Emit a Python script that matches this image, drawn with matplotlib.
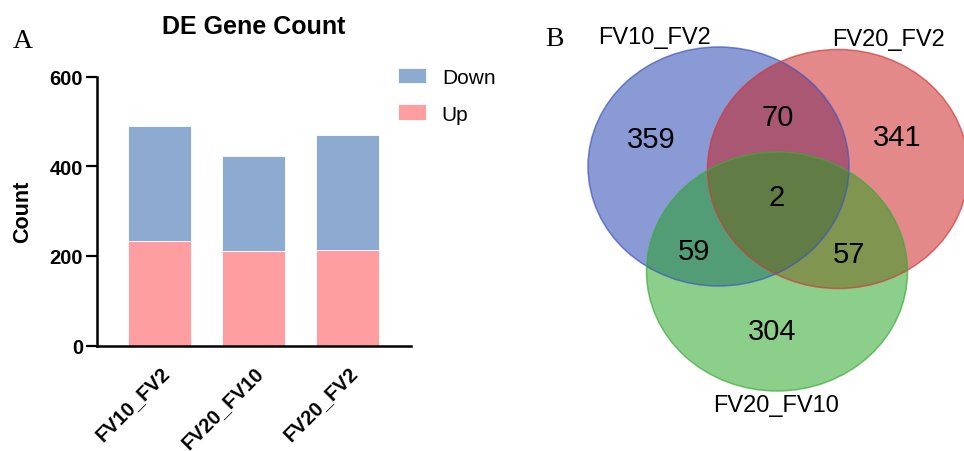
import matplotlib
matplotlib.use("Agg")
import matplotlib.pyplot as plt
from matplotlib.patches import Ellipse
import numpy as np

# Differentially expressed gene counts per comparison
comparisons = ["FV10_FV2", "FV20_FV10", "FV20_FV2"]
up_counts = [234, 210, 212]
down_counts = [256, 212, 258]
y_ticks = [0, 200, 400, 600]

# Venn region counts
set_names = ["FV10_FV2", "FV20_FV2", "FV20_FV10"]
venn_counts = {
    "100": 359, "010": 341, "001": 304,
    "110": 70, "101": 59, "011": 57, "111": 2,
}

W, H = 964, 452
fig = plt.figure(figsize=(W / 100, H / 100), dpi=100)
plt.rcParams["font.family"] = ["Liberation Sans", "DejaVu Sans"]

# ---- Panel A: stacked bar chart ----
ax = fig.add_axes([97 / W, 1 - 346.5 / H, 314 / W, (346.5 - 77.5) / H])
x = np.arange(len(comparisons))
bw = 0.67
ax.bar(x, up_counts, width=bw, color="#FF9EA0", edgecolor="white",
       linewidth=0.6, label="Up")
ax.bar(x, down_counts, width=bw, bottom=up_counts, color="#8DABD1",
       edgecolor="white", linewidth=0.6, label="Down")
ax.set_xlim(-0.665, 2.675)
ax.set_ylim(0, 600)
ax.set_yticks(y_ticks)
ax.set_yticklabels([str(t) for t in y_ticks], fontsize=14.5, fontweight="bold")
ax.set_xticks(x)
ax.set_xticklabels(comparisons, fontsize=14.5, fontweight="bold",
                   rotation=45, ha="right", rotation_mode="anchor")
ax.tick_params(axis="y", length=8, width=1.6, pad=2)
ax.tick_params(axis="x", length=0, pad=12)
for s in ["top", "right"]:
    ax.spines[s].set_visible(False)
for s in ["left", "bottom"]:
    ax.spines[s].set_linewidth(1.8)
ax.set_ylabel("Count", fontsize=15.5, fontweight="bold", labelpad=12)
ax.set_title("DE Gene Count", fontsize=18, fontweight="bold", pad=31)

handles, labels = ax.get_legend_handles_labels()
leg = fig.legend(handles[::-1], labels[::-1], loc="upper left",
                 bbox_to_anchor=(398 / W, 1 - 68.5 / H), frameon=False,
                 fontsize=15, handlelength=1.35, handleheight=0.8,
                 handletextpad=0.75, labelspacing=0.85,
                 borderaxespad=0, borderpad=0)

fig.text(23 / W, 1 - 41 / H, "A", family="Liberation Serif", fontsize=20,
         ha="center", va="center")

# ---- Panel B: three-set Venn diagram ----
vx = fig.add_axes([540 / W, 0, (W - 540) / W, 1])
vx.set_xlim(540, W)
vx.set_ylim(H, 0)
vx.axis("off")

circles = [
    ((718.5, 167.5), "#1737AD", "#3F55C0"),
    ((838.0, 170.0), "#CB1515", "#D2393E"),
    ((777.0, 272.5), "#1BA119", "#3DAA3C"),
]
rx, ry = 130.5, 119.5
for (cx, cy), fc, ec in circles:
    vx.add_patch(Ellipse((cx, cy), 2 * rx, 2 * ry, facecolor=fc, alpha=0.5,
                         edgecolor="none"))
for (cx, cy), fc, ec in circles:
    vx.add_patch(Ellipse((cx, cy), 2 * rx, 2 * ry, facecolor="none",
                         edgecolor=ec, linewidth=1.1, alpha=0.7))

region_pos = {
    "100": (651, 140), "010": (897, 138), "001": (772, 332),
    "110": (778, 118), "101": (694, 252), "011": (849, 255), "111": (777, 198),
}
for key, val in venn_counts.items():
    px, py = region_pos[key]
    vx.text(px, py, str(val), fontsize=21, ha="center", va="center")

name_pos = [(655, 38), (888, 40), (776, 406)]
for name, (px, py) in zip(set_names, name_pos):
    vx.text(px, py, name, fontsize=17, ha="center", va="center")

fig.text(554 / W, 1 - 39 / H, "B", family="Liberation Serif", fontsize=20,
         ha="center", va="center")

fig.savefig("out.png", dpi=100)
